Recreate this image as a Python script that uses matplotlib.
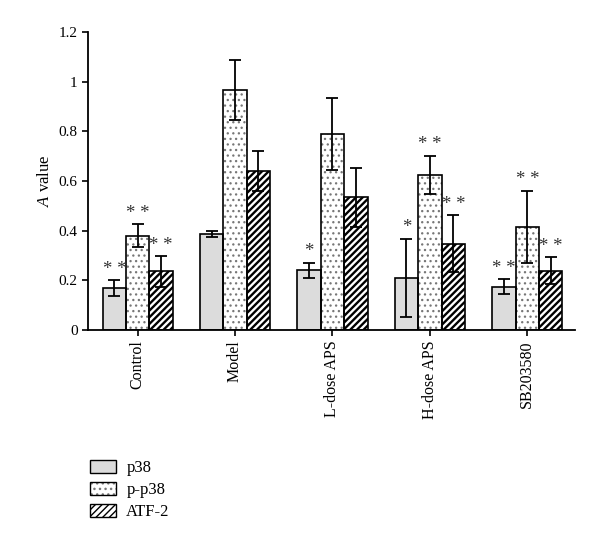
import numpy as np
import matplotlib
matplotlib.use("Agg")
import matplotlib.pyplot as plt
from matplotlib.patches import Patch

plt.rcParams['font.family'] = ['Liberation Serif', 'DejaVu Serif']
plt.rcParams['mathtext.fontset'] = 'custom'
plt.rcParams['mathtext.it'] = 'Liberation Serif:italic'
plt.rcParams['hatch.linewidth'] = 1.0

groups = ['Control', 'Model', 'L-dose APS', 'H-dose APS', 'SB203580']
series = ['p38', 'p-p38', 'ATF-2']
p38 = [0.169, 0.385, 0.241, 0.210, 0.174]
p38_err = [0.032, 0.012, 0.030, 0.158, 0.030]
pp38 = [0.380, 0.967, 0.791, 0.624, 0.415]
pp38_err = [0.045, 0.120, 0.145, 0.078, 0.146]
atf2 = [0.236, 0.640, 0.534, 0.348, 0.239]
atf2_err = [0.061, 0.080, 0.120, 0.114, 0.055]
stars = [['**', '', '*', '*', '**'],
         ['**', '', '', '**', '**'],
         ['**', '', '', '**', '**']]

fig = plt.figure(figsize=(6, 5.54), dpi=100)
ax = fig.add_axes([88/600, 1-330/554, 487/600, 298/554])

x = np.arange(len(groups))
w = 0.24
colors = ['#dcdcdc', 'white', 'white']
hatches = [None, '...', '/////']
hatch_cols = ['black', '#777777', 'black']
hatch_lws = [1.0, 0.9, 1.7]
vals = [p38, pp38, atf2]
errs = [p38_err, pp38_err, atf2_err]


def hatched(p, i):
    if hasattr(p, 'set_hatch_linewidth'):
        p.set_hatch_linewidth(hatch_lws[i])


for i in range(3):
    pos = x + (i - 1) * w
    # fill + hatch (hatch takes the edge colour), then a black outline on top
    fill = ax.bar(pos, vals[i], w, color=colors[i], hatch=hatches[i],
                  edgecolor=hatch_cols[i], linewidth=0, zorder=2)
    for p in fill:
        hatched(p, i)
    ax.bar(pos, vals[i], w, fill=False, edgecolor='black', linewidth=1.2, zorder=2.5)
    ax.errorbar(pos, vals[i], yerr=errs[i], fmt='none', ecolor='black',
                elinewidth=1.3, capsize=4.5, capthick=1.3, zorder=3)
    for j in range(len(groups)):
        if stars[i][j]:
            ax.text(pos[j], vals[i][j] + errs[i][j] + 0.01, ' '.join(stars[i][j]),
                    ha='center', va='bottom', fontsize=13.5, color='#333333')

ax.set_xlim(-0.51, 4.49)
ax.set_ylim(0, 1.2)
ax.set_yticks([0, 0.2, 0.4, 0.6, 0.8, 1.0, 1.2])
ax.set_yticklabels(['0', '0.2', '0.4', '0.6', '0.8', '1', '1.2'], fontsize=11)
ax.set_xticks(x)
ax.set_xticklabels(groups, rotation=90, fontsize=11.5)
ax.tick_params(axis='both', direction='out', width=1.2, length=4)
ax.set_ylabel('$\\it{A}$ value', fontsize=12)
for s in ['top', 'right']:
    ax.spines[s].set_visible(False)
for s in ['left', 'bottom']:
    ax.spines[s].set_linewidth(1.3)

handles = []
for i in range(3):
    f = Patch(facecolor=colors[i], hatch=hatches[i], edgecolor=hatch_cols[i],
              linewidth=0)
    hatched(f, i)
    o = Patch(fill=False, edgecolor='black', linewidth=1.0)
    handles.append((f, o))
fig.legend(handles=handles, labels=series, loc='lower left',
           bbox_to_anchor=(0.13, 0.04),
           frameon=False, fontsize=12, handlelength=1.6, handleheight=0.8,
           labelspacing=0.35, handletextpad=0.6, borderpad=0.2)

fig.savefig('out.png', dpi=100)
